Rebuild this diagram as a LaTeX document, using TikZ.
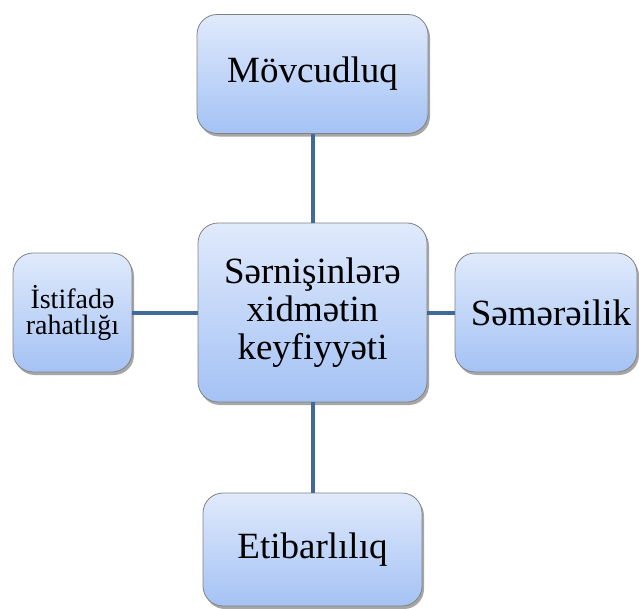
\documentclass[tikz,border=0pt]{standalone}
\usepackage{fontspec}
\setmainfont{Liberation Serif}
\usetikzlibrary{shadows}
\definecolor{boxtop}{RGB}{224,234,252}
\definecolor{boxbot}{RGB}{164,194,244}
\definecolor{boxline}{RGB}{130,130,130}
\definecolor{linkcol}{RGB}{65,106,152}
\tikzset{
  box/.style={draw=boxline, line width=0.8pt, rounded corners=20pt,
    top color=boxtop, bottom color=boxbot, align=center, inner sep=1pt,
    drop shadow={shadow xshift=2pt, shadow yshift=-3pt, fill=black, opacity=0.35}},
  link/.style={draw=linkcol, line width=4pt}
}
\begin{document}
\begin{tikzpicture}[x=1pt,y=-1pt]
\useasboundingbox (0,0) rectangle (639,608);
\node[box, minimum width=231pt, minimum height=119pt, font=\fontsize{37}{38}\selectfont] (top) at (312.5,74) {Mövcudluq};
\node[box, minimum width=119pt, minimum height=119pt, font=\fontsize{28}{26}\selectfont] (left) at (72.5,312.5) {İstifadə\\rahatlığı};
\node[box, minimum width=182pt, minimum height=119pt, font=\fontsize{37}{38}\selectfont] (right) at (546,312.5) {\hspace*{10pt}Səmərəilik};
\node[box, minimum width=229pt, minimum height=179pt, font=\fontsize{37}{38}\selectfont] (center) at (312.5,312.5) {Sərnişinlərə\\xidmətin\\keyfiyyəti};
\node[box, minimum width=219pt, minimum height=113pt, font=\fontsize{37}{38}\selectfont] (bottom) at (312.5,549.5) {Etibarlılıq};
\draw[link] (top) -- (center);
\draw[link] (center) -- (bottom);
\draw[link] (left) -- (center);
\draw[link] (center) -- (right);
\end{tikzpicture}
\end{document}
